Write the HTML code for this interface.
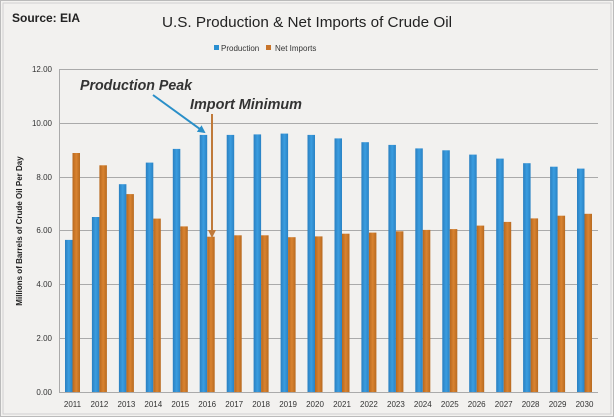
<!DOCTYPE html>
<html><head><meta charset="utf-8"><style>
html,body{margin:0;padding:0;background:#fff}
svg{display:block;font-family:"Liberation Sans",sans-serif}
</style></head><body>
<svg width="614" height="417" viewBox="0 0 614 417" xmlns="http://www.w3.org/2000/svg">
<defs>
<linearGradient id="gb" x1="0" x2="1" y1="0" y2="0"><stop offset="0" stop-color="#2a7fc0"/><stop offset="0.5" stop-color="#3a9de0"/><stop offset="1" stop-color="#2a82c4"/></linearGradient>
<linearGradient id="go" x1="0" x2="1" y1="0" y2="0"><stop offset="0" stop-color="#b8681e"/><stop offset="0.5" stop-color="#d98330"/><stop offset="1" stop-color="#b86a20"/></linearGradient>
<marker id="ab" markerWidth="8" markerHeight="8" refX="6" refY="4" orient="auto" markerUnits="userSpaceOnUse"><path d="M0,0 L8,4 L0,8 z" fill="#2a8fc8"/></marker>
<marker id="ao" markerWidth="8" markerHeight="8" refX="6" refY="4" orient="auto" markerUnits="userSpaceOnUse"><path d="M0,0 L8,4 L0,8 z" fill="#c07a3a"/></marker>
</defs>
<rect x="0.5" y="0.5" width="613" height="416" fill="#f3f2f0" stroke="#bbb"/>
<rect x="3" y="3" width="608" height="411" fill="#f2f1ef" stroke="#d0d0d0"/>
<text x="12" y="22" font-size="12" font-weight="bold" fill="#222">Source:  EIA</text>
<text x="307" y="27" font-size="15" fill="#222" text-anchor="middle" textLength="290" lengthAdjust="spacingAndGlyphs">U.S. Production &amp; Net Imports of Crude Oil</text>
<rect x="214" y="45" width="5" height="5" fill="#2a8fd0"/>
<text x="221" y="51" font-size="8" fill="#333">Production</text>
<rect x="266" y="45" width="5" height="5" fill="#c8742a"/>
<text x="275" y="51" font-size="8" fill="#333">Net Imports</text>
<g stroke="#aaa" stroke-width="1">
<line x1="59" x2="598" y1="69.5" y2="69.5"/>
<line x1="59" x2="598" y1="123.5" y2="123.5"/>
<line x1="59" x2="598" y1="177.5" y2="177.5"/>
<line x1="59" x2="598" y1="230.5" y2="230.5"/>
<line x1="59" x2="598" y1="284.5" y2="284.5"/>
<line x1="59" x2="598" y1="338.5" y2="338.5"/>
<line x1="59" x2="598" y1="392.5" y2="392.5"/>
<line x1="59.5" x2="59.5" y1="69" y2="392"/>
</g>
<g font-size="8" fill="#333" text-anchor="end">
<text x="52" y="72">12.00</text><text x="52" y="126">10.00</text><text x="52" y="180">8.00</text>
<text x="52" y="233">6.00</text><text x="52" y="287">4.00</text><text x="52" y="341">2.00</text><text x="52" y="395">0.00</text>
</g>
<text transform="translate(22,231) rotate(-90)" font-size="8" font-weight="bold" fill="#222" text-anchor="middle">Millions of Barrels of Crude Oil Per Day</text>
<g fill="url(#gb)">
<rect x="65.0" y="239.9" width="7.5" height="152.1"/>
<rect x="91.9" y="217.0" width="7.5" height="175.0"/>
<rect x="118.9" y="184.2" width="7.5" height="207.8"/>
<rect x="145.8" y="162.6" width="7.5" height="229.4"/>
<rect x="172.8" y="148.9" width="7.5" height="243.1"/>
<rect x="199.7" y="134.9" width="7.5" height="257.1"/>
<rect x="226.7" y="134.9" width="7.5" height="257.1"/>
<rect x="253.6" y="134.4" width="7.5" height="257.6"/>
<rect x="280.6" y="133.6" width="7.5" height="258.4"/>
<rect x="307.5" y="134.9" width="7.5" height="257.1"/>
<rect x="334.5" y="138.4" width="7.5" height="253.6"/>
<rect x="361.4" y="142.2" width="7.5" height="249.8"/>
<rect x="388.4" y="144.9" width="7.5" height="247.1"/>
<rect x="415.3" y="148.4" width="7.5" height="243.6"/>
<rect x="442.3" y="150.3" width="7.5" height="241.7"/>
<rect x="469.2" y="154.6" width="7.5" height="237.4"/>
<rect x="496.2" y="158.6" width="7.5" height="233.4"/>
<rect x="523.1" y="163.2" width="7.5" height="228.8"/>
<rect x="550.1" y="166.7" width="7.5" height="225.3"/>
<rect x="577.0" y="168.6" width="7.5" height="223.4"/>
</g>
<g fill="url(#go)">
<rect x="72.5" y="153.0" width="7.5" height="239.0"/>
<rect x="99.4" y="165.3" width="7.5" height="226.7"/>
<rect x="126.4" y="194.1" width="7.5" height="197.9"/>
<rect x="153.3" y="218.6" width="7.5" height="173.4"/>
<rect x="180.3" y="226.4" width="7.5" height="165.6"/>
<rect x="207.2" y="236.7" width="7.5" height="155.3"/>
<rect x="234.2" y="235.3" width="7.5" height="156.7"/>
<rect x="261.1" y="235.3" width="7.5" height="156.7"/>
<rect x="288.1" y="237.2" width="7.5" height="154.8"/>
<rect x="315.0" y="236.4" width="7.5" height="155.6"/>
<rect x="342.0" y="233.7" width="7.5" height="158.3"/>
<rect x="368.9" y="232.6" width="7.5" height="159.4"/>
<rect x="395.9" y="231.3" width="7.5" height="160.7"/>
<rect x="422.8" y="229.9" width="7.5" height="162.1"/>
<rect x="449.8" y="229.1" width="7.5" height="162.9"/>
<rect x="476.7" y="225.6" width="7.5" height="166.4"/>
<rect x="503.7" y="221.9" width="7.5" height="170.1"/>
<rect x="530.6" y="218.4" width="7.5" height="173.6"/>
<rect x="557.6" y="215.7" width="7.5" height="176.3"/>
<rect x="584.5" y="213.8" width="7.5" height="178.2"/>
</g>
<g font-size="8" fill="#333" text-anchor="middle">
<text x="72.5" y="407">2011</text><text x="99.4" y="407">2012</text><text x="126.4" y="407">2013</text><text x="153.3" y="407">2014</text><text x="180.3" y="407">2015</text>
<text x="207.2" y="407">2016</text><text x="234.2" y="407">2017</text><text x="261.1" y="407">2018</text><text x="288.1" y="407">2019</text><text x="315.0" y="407">2020</text>
<text x="342.0" y="407">2021</text><text x="368.9" y="407">2022</text><text x="395.9" y="407">2023</text><text x="422.8" y="407">2024</text><text x="449.8" y="407">2025</text>
<text x="476.7" y="407">2026</text><text x="503.7" y="407">2027</text><text x="530.6" y="407">2028</text><text x="557.6" y="407">2029</text><text x="584.5" y="407">2030</text>
</g>
<text x="80" y="90" font-size="15" font-weight="bold" font-style="italic" fill="#333" textLength="112" lengthAdjust="spacingAndGlyphs">Production Peak</text>
<text x="190" y="109" font-size="15" font-weight="bold" font-style="italic" fill="#333" textLength="112" lengthAdjust="spacingAndGlyphs">Import Minimum</text>
<line x1="153" y1="95" x2="204" y2="132" stroke="#2a8fc8" stroke-width="2" marker-end="url(#ab)"/>
<line x1="212" y1="114" x2="212" y2="236" stroke="#c07a3a" stroke-width="2" marker-end="url(#ao)"/>
</svg>
</body></html>
